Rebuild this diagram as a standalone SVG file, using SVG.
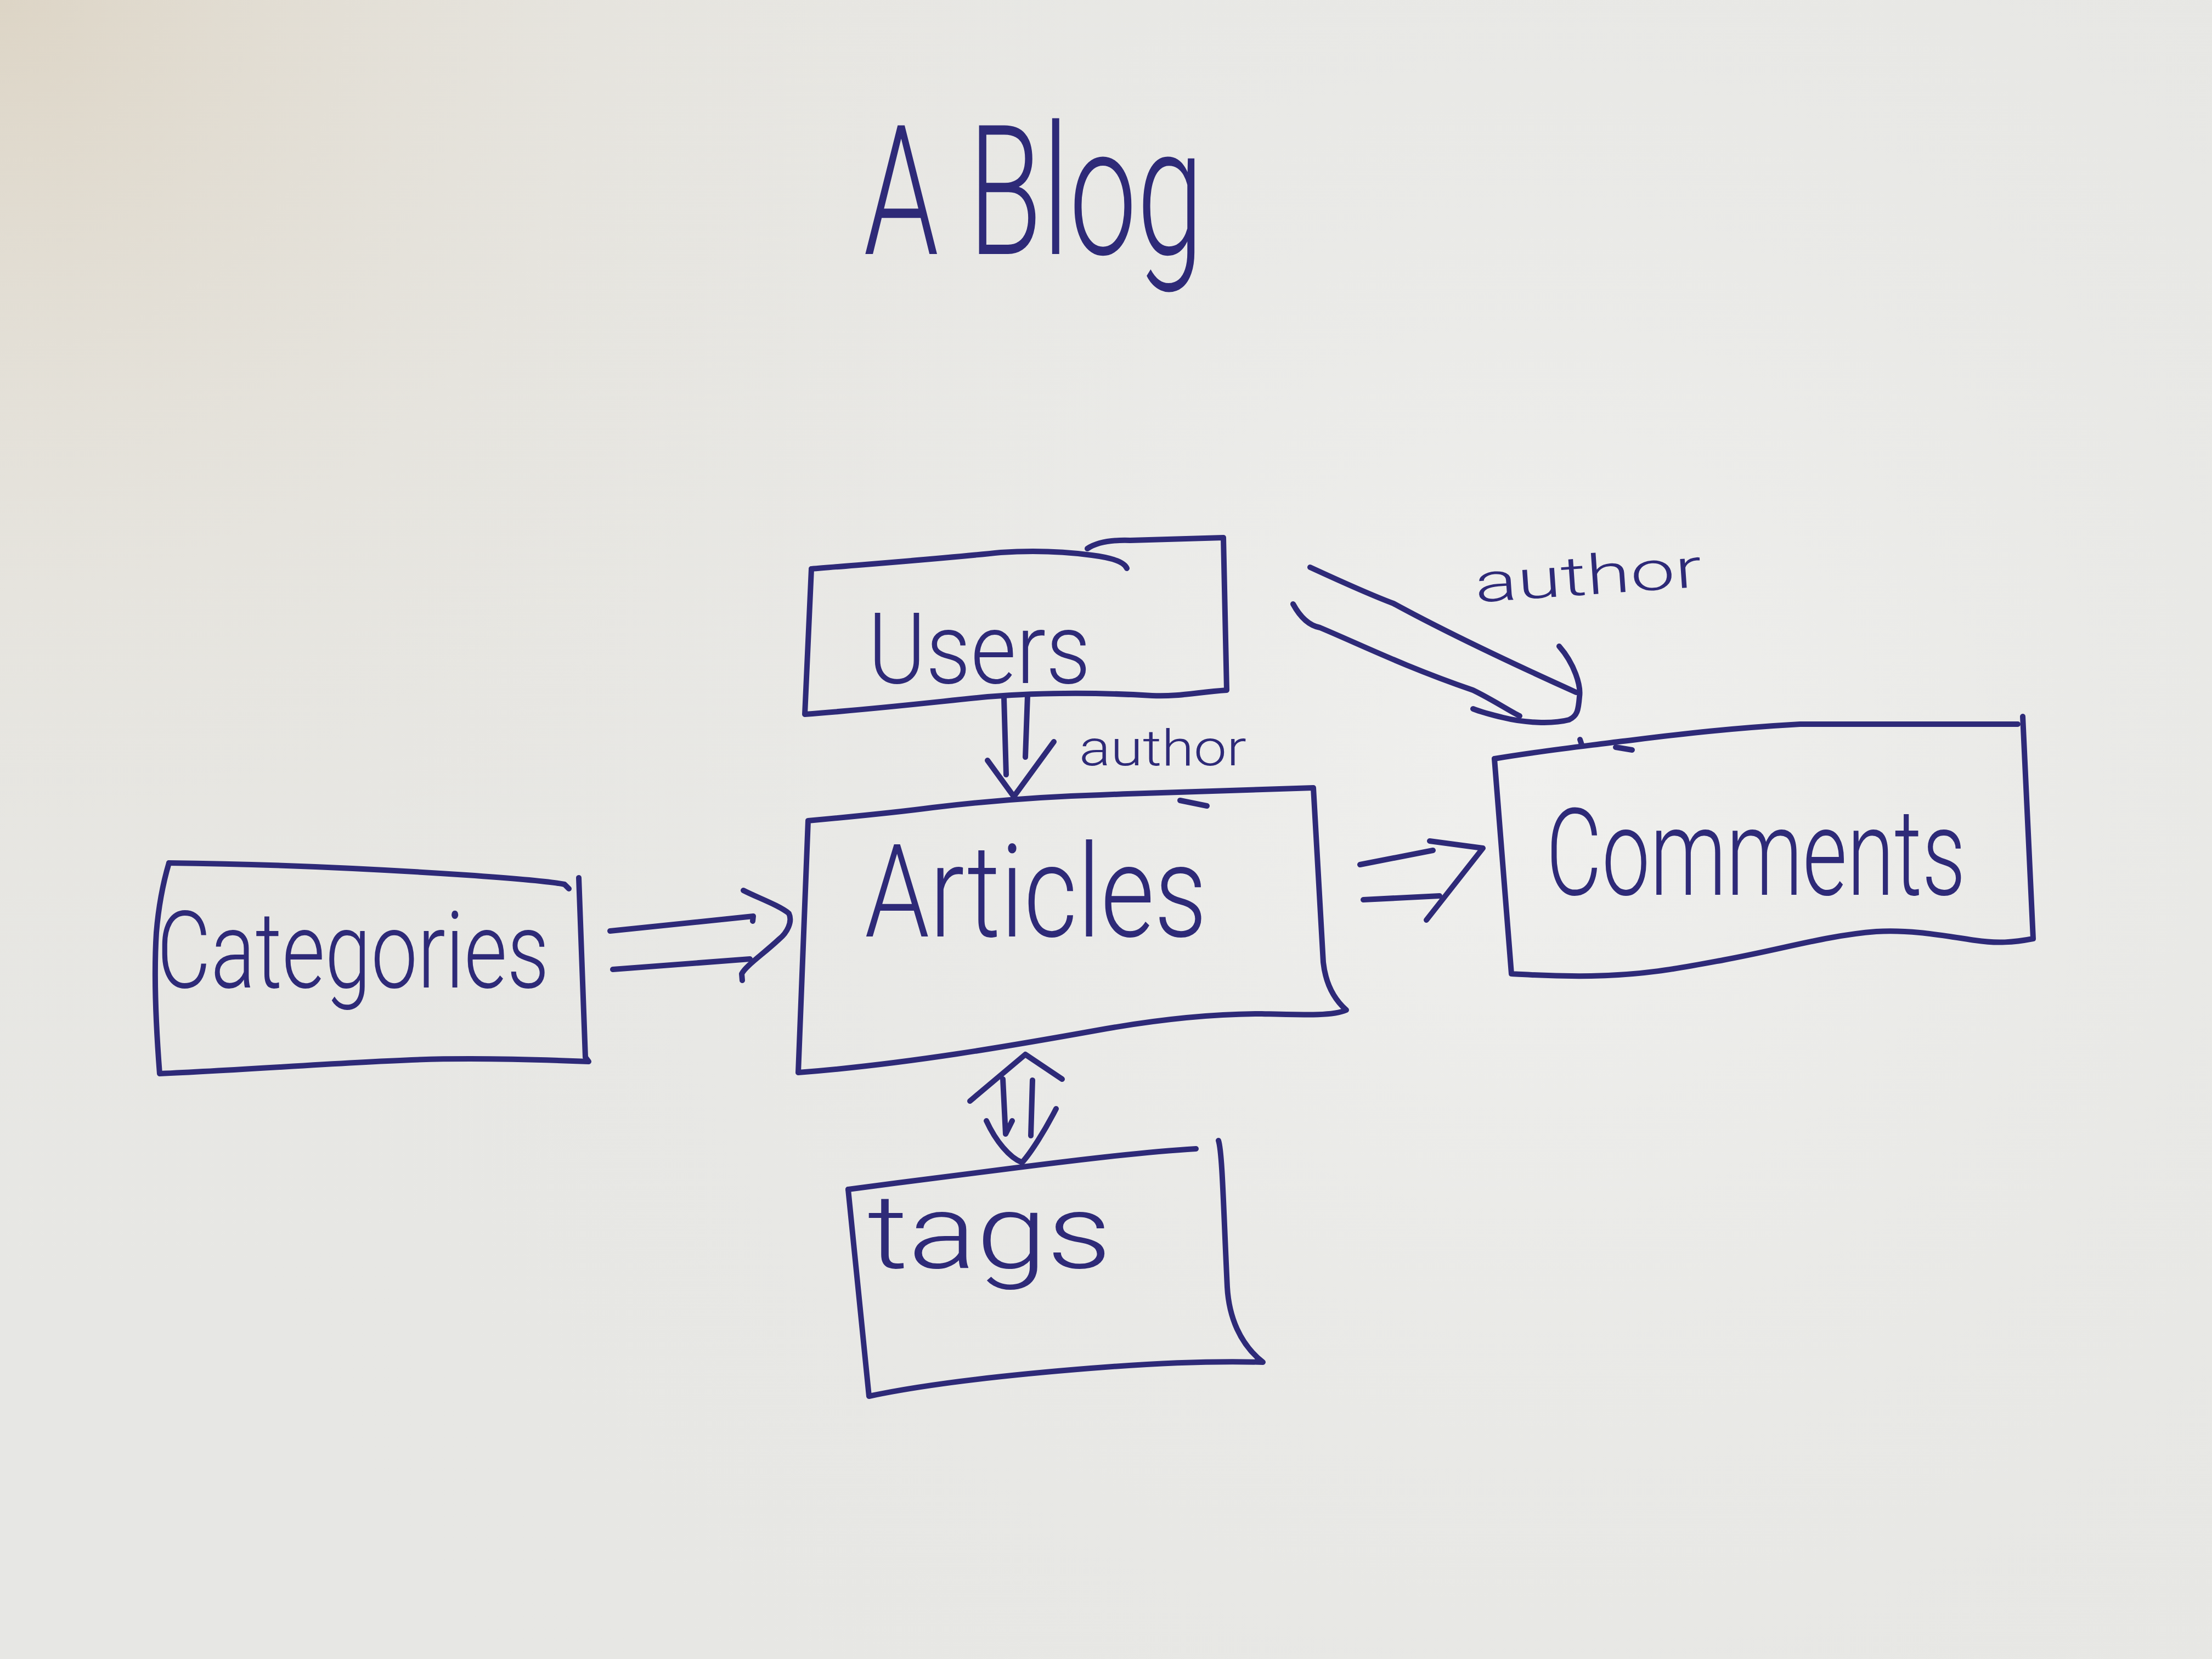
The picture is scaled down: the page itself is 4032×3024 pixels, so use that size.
<svg xmlns="http://www.w3.org/2000/svg" width="4032" height="3024" viewBox="0 0 4032 3024">
<defs>
<radialGradient id="warm" cx="0" cy="0" r="2400" gradientUnits="userSpaceOnUse">
<stop offset="0" stop-color="#ddd5c6" stop-opacity="1"/>
<stop offset="0.45" stop-color="#e5e1d8" stop-opacity="0.5"/>
<stop offset="1" stop-color="#eaeae7" stop-opacity="0"/>
</radialGradient>
<radialGradient id="light" cx="2800" cy="1400" r="2500" gradientUnits="userSpaceOnUse">
<stop offset="0" stop-color="#f0f0ee" stop-opacity="1"/>
<stop offset="1" stop-color="#e6e6e3" stop-opacity="0"/>
</radialGradient>
<style>
.ink{fill:none;stroke:#2e2a78;stroke-width:10;stroke-linecap:round;stroke-linejoin:round}
.txt{fill:#2e2a78;font-family:Roboto,"Liberation Sans",sans-serif;font-weight:300}
</style>
</defs>
<rect width="4032" height="3024" fill="#e7e7e4"/>
<rect width="4032" height="3024" fill="url(#light)"/>
<rect width="4032" height="3024" fill="url(#warm)"/>

<text id="title" class="txt" x="1574" y="463" font-size="330" textLength="620" lengthAdjust="spacingAndGlyphs">A Blog</text>

<g id="users">
<path class="ink" d="M1479,1037 C1560,1030 1700,1020 1824,1007 C1900,1002 1960,1008 1990,1012 C2030,1017 2050,1025 2054,1036"/>
<path class="ink" d="M1982,1000 C2000,988 2030,984 2060,985 L2230,980 L2236,1258 C2180,1262 2150,1270 2100,1268 C2000,1262 1900,1262 1800,1270 C1700,1280 1600,1292 1467,1302 L1479,1037"/>
<text class="txt" x="1582" y="1245" font-size="180" textLength="406" lengthAdjust="spacingAndGlyphs">Users</text>
</g>

<g id="articles">
<path class="ink" d="M1473,1496 C1560,1488 1640,1480 1700,1472 C1800,1460 1900,1452 2006,1449 C2150,1443 2300,1438 2394,1436 L2412,1754 C2416,1790 2430,1820 2454,1841 C2430,1852 2380,1850 2300,1848 C2200,1848 2100,1860 2000,1878 C1850,1905 1650,1940 1455,1955 Z"/>
<path class="ink" d="M2151,1459 L2200,1469"/>
<text class="txt" x="1576" y="1707" font-size="235" textLength="624" lengthAdjust="spacingAndGlyphs">Articles</text>
</g>

<g id="comments">
<path class="ink" d="M2724,1383 C2800,1370 2880,1361 2950,1352 C3050,1340 3140,1328 3281,1320 L3678,1320"/>
<path class="ink" d="M3687,1306 L3706,1711 C3670,1718 3640,1720 3600,1714 C3540,1705 3480,1694 3420,1698 C3330,1705 3250,1730 3141,1750 C3060,1765 3000,1777 2900,1779 C2820,1780 2780,1776 2755,1775 L2724,1383"/>
<path class="ink" d="M2880,1348 L2884,1360 M2945,1362 L2975,1367"/>
<text class="txt" x="2818" y="1631" font-size="220" textLength="765" lengthAdjust="spacingAndGlyphs">Comments</text>
</g>

<g id="categories">
<path class="ink" d="M308,1573 C500,1575 700,1585 850,1595 C950,1602 1010,1608 1029,1612 L1037,1620"/>
<path class="ink" d="M1055,1600 L1067,1927 L1073,1935 C950,1930 850,1928 750,1932 C600,1938 450,1950 291,1957 C285,1880 280,1780 285,1700 C290,1640 300,1600 308,1573"/>
<text class="txt" x="286" y="1800" font-size="195" textLength="715" lengthAdjust="spacingAndGlyphs">Categories</text>
</g>

<g id="tags">
<path class="ink" d="M1546,2168 C1640,2155 1750,2142 1825,2132 C1950,2116 2080,2100 2180,2094"/>
<path class="ink" d="M2221,2079 C2228,2100 2230,2200 2237,2346 C2240,2400 2260,2450 2302,2483 C2200,2480 2100,2485 1988,2494 C1850,2505 1700,2520 1584,2545 L1546,2168"/>
<text class="txt" x="1581" y="2311" font-size="190" textLength="445" lengthAdjust="spacingAndGlyphs">tags</text>
</g>

<g id="connectors">
<g id="users-articles">
<path class="ink" d="M1830,1272 L1834,1412 M1873,1268 L1869,1380 M1800,1386 L1848,1452 L1921,1352"/>
<text class="txt" x="1967" y="1395" font-size="90" textLength="305" lengthAdjust="spacingAndGlyphs">author</text>
</g>
<g id="users-comments">
<path class="ink" d="M2388,1034 C2440,1058 2500,1085 2540,1100 C2650,1160 2780,1220 2873,1262"/>
<path class="ink" d="M2357,1101 C2370,1125 2385,1140 2406,1144 C2480,1175 2560,1215 2685,1258 C2720,1275 2750,1295 2770,1305"/>
<path class="ink" d="M2842,1178 C2870,1210 2882,1250 2879,1270 C2877,1295 2875,1305 2860,1312 C2830,1320 2780,1318 2740,1308 C2715,1302 2695,1296 2685,1292"/>
<text class="txt" x="2690" y="1098" font-size="100" textLength="415" lengthAdjust="spacingAndGlyphs" transform="rotate(-4 2690 1098)">author</text>
</g>
<g id="articles-comments">
<path class="ink" d="M2479,1576 L2612,1550 M2485,1640 L2624,1633 M2606,1533 L2703,1546 L2600,1677"/>
</g>
<g id="categories-articles">
<path class="ink" d="M1112,1697 L1373,1670 L1372,1679 M1117,1767 L1367,1748"/>
<path class="ink" d="M1355,1623 C1380,1636 1420,1650 1438,1665 C1445,1680 1435,1700 1420,1712 C1390,1740 1360,1760 1352,1775 L1353,1787"/>
</g>
<g id="articles-tags">
<path class="ink" d="M1768,2007 L1869,1922 L1936,1967 M1828,1967 L1833,2067 L1845,2043 M1882,1969 L1879,2070"/>
<path class="ink" d="M1798,2043 C1815,2080 1840,2110 1863,2119 C1880,2100 1905,2060 1925,2021"/>
</g>
</g>
</svg>
